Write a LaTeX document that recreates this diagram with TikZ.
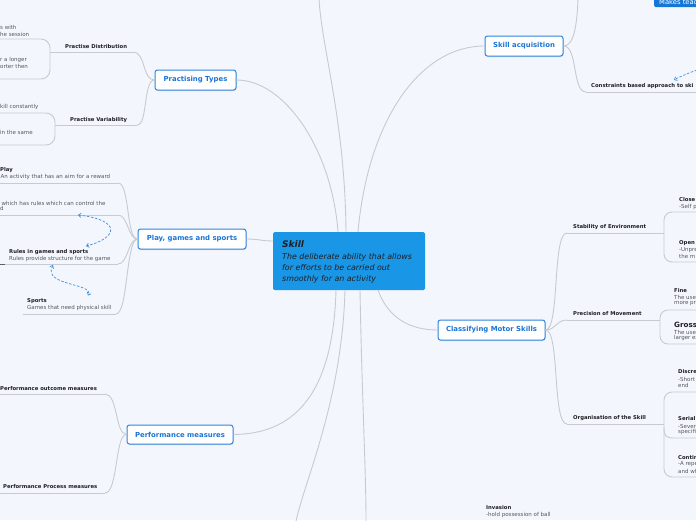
\documentclass[tikz,border=0pt]{standalone}
\usepackage{fontspec}
\setmainfont{DejaVu Sans}
\usetikzlibrary{arrows.meta,shadows}
\definecolor{bg}{HTML}{F3F6FD}
\definecolor{ln}{HTML}{C8CAD2}
\definecolor{nb}{HTML}{2F86DE}
\definecolor{nt}{HTML}{1B74D6}
\definecolor{cf}{HTML}{1A96E6}
\definecolor{mk}{HTML}{1477D8}
\definecolor{tx}{HTML}{1E1E22}
\definecolor{sub}{HTML}{55575C}
\definecolor{rl}{HTML}{3B8FE2}
\tikzset{
 conn/.style={draw=ln, line width=0.9pt},
 ul/.style={draw=ln, line width=0.9pt},
 topic/.style={draw=nb, line width=1pt, fill=white, rounded corners=2.5pt, text=nt,
   font=\fontsize{6.9}{8}\selectfont\bfseries, inner sep=0pt,
   drop shadow={shadow xshift=0.5pt, shadow yshift=-1pt, opacity=0.25}},
 lhead/.style={font=\fontsize{5.3}{6}\selectfont\bfseries, text=tx, inner sep=0pt, anchor=west},
 lbody/.style={font=\fontsize{5.5}{6}\selectfont, text=sub, inner sep=0pt, anchor=west},
 ctext/.style={font=\fontsize{7.9}{9}\selectfont\itshape, text=tx, inner sep=0pt, anchor=base west},
 rel/.style={draw=rl, line width=0.7pt, dash pattern=on 2.5pt off 1.6pt, -{Straight Barb[length=2.4pt,width=4.2pt]}},
 relboth/.style={draw=rl, line width=0.7pt, dash pattern=on 2.5pt off 1.6pt, {Straight Barb[length=2.4pt,width=4.2pt]}-{Straight Barb[length=2.4pt,width=4.2pt]}},
}
\begin{document}
\begin{tikzpicture}[x=1pt,y=-1pt]
\fill[bg] (0,0) rectangle (696,520);
\useasboundingbox (0,0) rectangle (696,520);
\clip (0,0) rectangle (696,520);

% ---------- nodes ----------
\node[fill=cf, rounded corners=1.5pt, minimum width=152pt, minimum height=58pt, inner sep=0pt] (skill) at (349,261) {};
\node[ctext, font=\fontsize{9}{10}\selectfont\bfseries\itshape] (sk0) at (282,247.5) {Skill};
\node[ctext] (sk1) at (282,259) {The deliberate ability that allows};
\node[ctext] (sk2) at (282,270) {for efforts to be carried out};
\node[ctext] (sk3) at (282,281) {smoothly for an activity};

\node[topic, minimum width=81pt, minimum height=20pt] (pt) at (195.5,80) {Practising Types};
\node[topic, minimum width=108pt, minimum height=20pt] (play) at (192,239) {Play, games and sports};
\node[topic, minimum width=106pt, minimum height=19pt] (pm) at (180,434.5) {Performance measures};
\node[topic, minimum width=78pt, minimum height=20pt] (sa) at (524,46) {Skill acquisition};
\node[topic, minimum width=107pt, minimum height=20pt] (cms) at (491.5,330) {Classifying Motor Skills};

\node[fill=mk, rounded corners=2pt, anchor=north west, minimum width=50pt, minimum height=14pt, inner sep=0pt] (mt) at (654,-7) {};
\node[font=\fontsize{6.8}{8}\selectfont, text=white, anchor=base west, inner sep=0pt] (mtt) at (659,4) {Makes teac};

% ---------- coordinates ----------
\coordinate (c0) at (273,241);
\coordinate (c1) at (338,232);
\coordinate (c2) at (346,232);
\coordinate (c3) at (358,232);
\coordinate (c4) at (336,290);
\coordinate (c5) at (345,290);
\coordinate (c6) at (360,290);
\coordinate (c7) at (378,290);
\coordinate (topend) at (319,-1);
\coordinate (b1) at (296,521);
\coordinate (b2) at (366,521);

% ---------- main connectors ----------
\draw[conn] (pt.east) .. controls (285,80) and (332,150) .. (c1);
\draw[conn] (c2) .. controls (345,120) and (322,50) .. (topend);
\draw[conn] (c3) .. controls (368,120) and (420,46) .. (sa.west);
\draw[conn] (play.east) .. controls (258,239) and (262,241) .. (c0);
\draw[conn] (c4) .. controls (333,400) and (290,434) .. (pm.east);
\draw[conn] (c5) .. controls (342,400) and (305,480) .. (b1);
\draw[conn] (c6) .. controls (362,400) and (366,470) .. (b2);
\draw[conn] (c7) .. controls (388,318) and (410,330) .. (cms.west);

% ---------- Practising Types ----------
\coordinate (pd1) at (50,52); \coordinate (pd2) at (133,52);
\draw[ul] (pd1) -- (pd2);
\draw[conn] (pd2) .. controls (146,52) and (142,80) .. (pt.west);
\draw[ul, rounded corners=9pt] (-1,39) -- (50,39) -- (50,79) -- (-1,79);
\node[lhead] (n1) at (65,47) {Practise Distribution};
\node[lbody] (n2) at (0,27) {s with};
\node[lbody] (n3) at (0,34) {he session};
\node[lbody] (n4) at (0,60) {r a longer};
\node[lbody] (n5) at (0,66.5) {orter then};

\coordinate (pv1) at (55,125); \coordinate (pv2) at (137,125);
\draw[ul] (pv1) -- (pv2);
\draw[conn] (pv2) .. controls (148,125) and (143,80) .. (pt.west);
\draw[ul, rounded corners=9pt] (-1,113) -- (55,113) -- (55,145) -- (-1,145);
\node[lhead] (n6) at (70,120) {Practise Variability};
\node[lbody] (n7) at (0,106.5) {kill constantly};
\node[lbody] (n8) at (0,132.5) {in the same};

% ---------- Play, games and sports ----------
\coordinate (pl1) at (118,183); \coordinate (pl2) at (118,215);
\coordinate (pl3) at (118,264); \coordinate (pl4) at (116,314);
\coordinate (pl1s) at (-1,183); \coordinate (pl2s) at (-1,215);
\coordinate (pl3s) at (-1,264); \coordinate (pl4s) at (23,314);
\draw[ul] (pl1s) -- (pl1); \draw[ul] (pl2s) -- (pl2);
\draw[ul] (pl3s) -- (pl3); \draw[ul] (pl4s) -- (pl4);
\draw[conn] (pl1) .. controls (130,183) and (126,239) .. (play.west);
\draw[conn] (pl2) .. controls (128,215) and (128,239) .. (play.west);
\draw[conn] (pl3) .. controls (128,264) and (128,239) .. (play.west);
\draw[conn] (pl4) .. controls (128,314) and (126,239) .. (play.west);
\coordinate (stub) at (5,264);
\draw[draw=gray!75!black, line width=1pt] (pl3s) -- (stub);
\node[lhead] (g1) at (0,170) {Play};
\node[lbody] (g2) at (0.5,177) {An activity that has an aim for a reward};
\node[lbody] (g3) at (1.5,203) {which has rules which can control the};
\node[lbody] (g4) at (0,208.5) {d};
\node[lhead] (g5) at (9,252) {Rules in games and sports};
\node[lbody] (g6) at (9,259) {Rules provide structure for the game};
\node[lhead] (g7) at (27,301) {Sports};
\node[lbody] (g8) at (27,308) {Games that need physical skill};

\coordinate (ra1) at (78,215); \coordinate (ra2) at (86,246);
\draw[relboth] (ra1) .. controls (122,220) and (118,238) .. (ra2);
\coordinate (rb1) at (53,265); \coordinate (rb2) at (88,295.5);
\draw[relboth] (rb1) .. controls (42,286) and (94,283) .. (rb2);

% ---------- Performance measures ----------
\coordinate (po) at (105,394); \coordinate (pos) at (-1,394);
\coordinate (pp) at (105,493); \coordinate (pps) at (-1,493);
\draw[ul] (pos) -- (po); \draw[ul] (pps) -- (pp);
\draw[conn] (po) .. controls (118,394) and (115,434) .. (pm.west);
\draw[conn] (pp) .. controls (118,493) and (115,434) .. (pm.west);
\node[lhead] (q1) at (0,389) {Performance outcome measures};
\node[lhead] (q2) at (3,487) {Performance Process measures};

% ---------- Skill acquisition ----------
\coordinate (satop) at (578,-1);
\draw[conn] (sa.east) .. controls (574,46) and (577,25) .. (satop);
\coordinate (cb) at (586,92); \coordinate (cbe) at (697,92);
\draw[conn] (sa.east) .. controls (578,46) and (572,92) .. (cb);
\draw[ul] (cb) -- (cbe);
\node[lhead] (s1) at (591,86) {Constraints based approach to ski};
\coordinate (rc1) at (697,70); \coordinate (rc2) at (674,80);
\draw[rel] (rc1) .. controls (689,73) and (681,76) .. (rc2);

% ---------- Classifying Motor Skills ----------
\coordinate (se) at (567,233); \coordinate (see) at (664,233);
\coordinate (pmv) at (567,320); \coordinate (pmve) at (660,320);
\coordinate (os) at (567,424); \coordinate (ose) at (664,424);
\draw[ul] (se) -- (see); \draw[ul] (pmv) -- (pmve); \draw[ul] (os) -- (ose);
\draw[conn] (cms.east) .. controls (560,330) and (552,233) .. (se);
\draw[conn] (cms.east) .. controls (556,330) and (556,320) .. (pmv);
\draw[conn] (cms.east) .. controls (560,330) and (552,424) .. (os);
\node[lhead] (m1) at (573,227) {Stability of Environment};
\node[lhead] (m2) at (573,314) {Precision of Movement};
\node[lhead] (m3) at (573,418) {Organisation of the Skill};

\draw[ul, rounded corners=8pt] (697,212) -- (664,212) -- (664,262) -- (697,262);
\draw[ul, rounded corners=8pt] (697,310) -- (660,310) -- (660,344) -- (697,344);
\draw[ul, rounded corners=8pt] (697,392) -- (664,392) -- (664,477) -- (697,477);
\coordinate (orm) at (664,428); \coordinate (orme) at (697,438);
\draw[ul] (orm) .. controls (664,436) and (666,438) .. (674,438) -- (orme);

\node[lhead] (r1) at (679,200) {Close};
\node[lbody] (r2) at (679,207) {-Self p};
\node[lhead] (r3) at (679,243) {Open};
\node[lbody] (r4) at (679,250) {-Unpre};
\node[lbody] (r5) at (679,256.5) {the m};
\node[lhead] (r6) at (674,291) {Fine};
\node[lbody] (r7) at (674,297) {The use};
\node[lbody] (r8) at (674,304) {more pr};
\node[lhead, font=\fontsize{7.2}{8}\selectfont\bfseries] (r9) at (674,324.5) {Gross};
\node[lbody] (r10) at (674,332) {The use};
\node[lbody] (r11) at (674,337.5) {larger ex};
\node[lhead] (r12) at (678,372) {Discre};
\node[lbody] (r13) at (678,379) {-Short};
\node[lbody] (r14) at (678,385) {end};
\node[lhead] (r15) at (678,419) {Serial};
\node[lbody] (r16) at (678,426) {-Sever};
\node[lbody] (r17) at (678,432) {specifi};
\node[lhead] (r18) at (678,458) {Contin};
\node[lbody] (r19) at (678,464.5) {-A repe};
\node[lbody] (r20) at (678,471) {and wh};

% ---------- Invasion ----------
\node[lhead] (v1) at (486,508) {Invasion};
\node[lbody] (v2) at (486,514.5) {-hold possession of ball};
\end{tikzpicture}
\end{document}
